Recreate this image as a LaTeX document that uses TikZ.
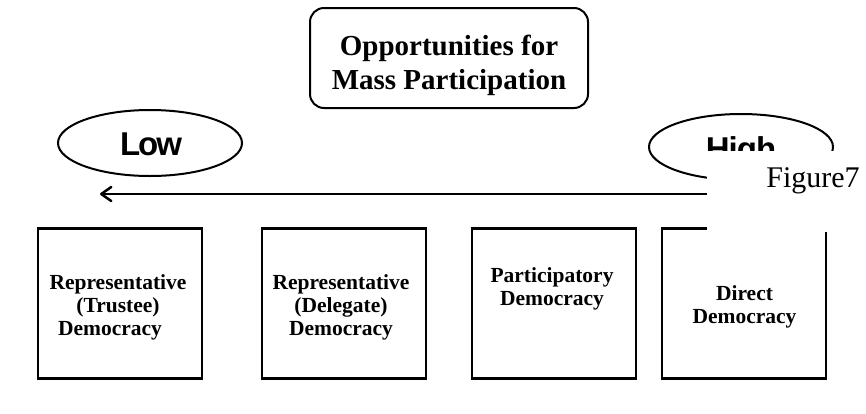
\documentclass[tikz,border=0pt]{standalone}
\usepackage{fontspec}
\setmainfont{Liberation Serif}
\newfontfamily\arialfont{Liberation Sans}
\usetikzlibrary{arrows.meta,shapes.geometric}
\begin{document}
\begin{tikzpicture}[x=1pt,y=-1pt,
  titlebox/.style={draw, rounded corners=14pt, line width=2pt, minimum width=278pt, minimum height=100pt, inner sep=0pt},
  titletxt/.style={font=\bfseries\fontsize{29}{34}\selectfont, align=center},
  oval/.style={ellipse, draw, line width=2pt, minimum width=184pt, minimum height=66pt, inner sep=0pt},
  ovaltxt/.style={font=\arialfont\bfseries\fontsize{33}{33}\selectfont, anchor=base, inner sep=0pt},
  kindbox/.style={draw, line width=2.5pt, minimum width=164pt, minimum height=150pt, inner sep=0pt},
  kindtxt/.style={font=\bfseries\fontsize{21.5}{23}\selectfont, align=center, inner sep=0pt},
  scale arrow/.style={line width=2.5pt, -{Straight Barb[length=10pt,width=14pt,round]}}]
\useasboundingbox (0,0) rectangle (866,413);
\fill[white] (0,0) rectangle (866,413);

% title
\node[titlebox] (title) at (449,58) {};
\node[titletxt] (titletext) at (449,65) {Opportunities for\\Mass Participation};

% ovals
\node[oval] (low) at (150,143) {};
\node[ovaltxt] (lowtxt) at (151,155) {L\kern-2pt o\kern-2pt w};
\node[oval] (high) at (741,147) {};
\node[ovaltxt] (hightxt) at (741,160) {H\kern-1pt i\kern-1pt g\kern-1pt h};

% arrow
\coordinate (astart) at (820,194);
\coordinate (aend) at (100,194);
\draw[scale arrow] (astart) -- (aend);

% boxes
\node[kindbox] (b1) at (120,303.5) {};
\node[kindbox] (b2) at (344,303.5) {};
\node[kindbox] (b3) at (554,303.5) {};
\node[kindbox] (b4) at (744,303.5) {};
\node[kindtxt] (t1) at (118,307) {Representative\\(Trustee)\\Democracy\hspace*{16pt}};
\node[kindtxt] (t2) at (341,307) {Representative\\(Delegate)\\Democracy};
\node[kindtxt] (t3) at (552,289) {Participatory\\Democracy};
\node[kindtxt] (t4) at (744.5,307) {Direct\\Democracy};

% overlay patch
\fill[white] (707,151) rectangle (866,232);
\node[font=\fontsize{30}{30}\selectfont, anchor=base, inner sep=0pt] (fig) at (813,187) {Figure7};
\end{tikzpicture}
\end{document}
